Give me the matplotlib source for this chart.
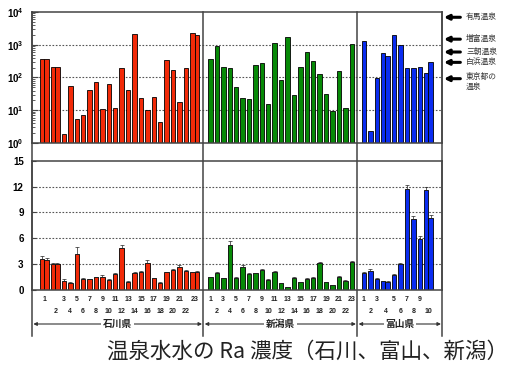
import numpy as np
import matplotlib
matplotlib.use("Agg")
import matplotlib.pyplot as plt
from matplotlib.transforms import blended_transform_factory
from matplotlib.ticker import FixedLocator, FuncFormatter, LogLocator, NullFormatter

plt.rcParams['font.family'] = ['Liberation Sans', 'Noto Sans CJK JP', 'DejaVu Sans']
plt.rcParams['mathtext.fontset'] = 'custom'
plt.rcParams['mathtext.rm'] = 'Liberation Sans'
plt.rcParams['mathtext.bf'] = 'Liberation Sans:bold'

# ---- data -----------------------------------------------------------------
prefectures = ['石川県', '新潟県', '富山県']
colors = ['#f22a08', '#078a07', '#0a2cf0']

# site number of every bar (sites with two samples appear twice)
sites_ishikawa = [1, 1, 2, 2] + list(range(3, 23)) + [23, 23]
sites_niigata = list(range(1, 24))
sites_toyama = [1, 2, 3, 4, 4, 5, 6, 7, 8, 9, 10, 10]

# upper panel (log scale)
rn_ishikawa = [365, 380, 213, 208, 1.9, 55, 5.5, 7, 41, 72, 10.7, 63, 11.5,
               200, 41, 2130, 23, 10, 25, 4.5, 340, 175, 17.5, 200, 2230, 2000]
rn_niigata = [380, 910, 213, 190, 50, 24.4, 22.3, 240, 275, 16, 1130, 83, 1680,
              29.5, 213, 600, 315, 130, 31.6, 9.3, 160, 11.8, 1030]
rn_toyama = [1320, 2.4, 95, 575, 465, 1960, 1000, 192, 192, 210, 141, 305]

# lower panel (Ra) with upper error
ra_ishikawa = [3.58, 3.46, 2.96, 2.96, 1.08, 0.85, 4.15, 1.23, 1.23, 1.46, 1.46,
               1.15, 1.80, 4.92, 0.96, 2.00, 2.10, 3.15, 1.35, 0.85, 2.04, 2.30,
               2.70, 2.20, 2.04, 2.08]
ra_err_ishikawa = [0.35, 0.30, 0.20, 0.20, 0.15, 0.10, 0.85, 0.15, 0.10, 0.10, 0.30,
                   0.10, 0.20, 0.25, 0.10, 0.10, 0.15, 0.35, 0.10, 0.10, 0.10, 0.15,
                   0.25, 0.10, 0.10, 0.10]
ra_niigata = [1.46, 2.00, 1.35, 5.19, 1.42, 2.70, 1.85, 1.92, 2.27, 1.12, 2.08, 0.77,
              0.30, 1.42, 0.88, 1.27, 1.38, 3.15, 0.88, 0.54, 1.54, 1.04, 3.23]
ra_err_niigata = [0.10, 0.10, 0.10, 0.45, 0.10, 0.15, 0.10, 0.10, 0.20, 0.10, 0.10,
                  0.10, 0.05, 0.10, 0.10, 0.10, 0.10, 0.15, 0.10, 0.05, 0.10, 0.10, 0.15]
ra_toyama = [1.94, 2.17, 1.24, 1.00, 0.93, 1.74, 2.98, 11.74, 8.20, 5.97, 11.60, 8.40]
ra_err_toyama = [0.10, 0.25, 0.10, 0.10, 0.10, 0.10, 0.15, 0.45, 0.40, 0.35, 0.40, 0.35]

# reference hot springs marked at the right of the upper panel
ref_names = ['有馬温泉', '増富温泉', '三朝温泉', '白浜温泉', '東京都の\n温泉']
ref_values = [6900, 1480, 600, 290, 92]

bottom_ticks = [0, 3, 6, 9, 12, 15]
caption = '温泉水水の Ra 濃度（石川、富山、新潟）'

# ---- layout ---------------------------------------------------------------
BAR_W = 1.0
GAP = 0.45
LEAD = [1.8, 1.1, 1.0]
TAIL = [1.0, 0.75, 2.15]

groups = [
    (sites_ishikawa, rn_ishikawa, ra_ishikawa, ra_err_ishikawa),
    (sites_niigata, rn_niigata, ra_niigata, ra_err_niigata),
    (sites_toyama, rn_toyama, ra_toyama, ra_err_toyama),
]

fig = plt.figure(figsize=(5.07, 3.71), dpi=100)
ax_t = fig.add_axes([32 / 507, 1 - 143 / 371, 410.3 / 507, 131 / 371])
ax_b = fig.add_axes([32 / 507, 1 - 290 / 371, 410.3 / 507, 129.3 / 371])

edge_col = '#444444'
cursor = 0.0
borders = [0.0]
odd_pos, odd_lab, even_pos, even_lab = [], [], [], []
for gi, (sites, rn, ra, err) in enumerate(groups):
    x = cursor + LEAD[gi]
    xs = []
    prev = None
    for s in sites:
        if prev is not None:
            x += BAR_W if s == prev else BAR_W + GAP
        xs.append(x)
        prev = s
    xs = np.array(xs)
    centers = xs + BAR_W / 2
    ax_t.bar(xs, rn, width=BAR_W, align='edge', color=colors[gi],
             edgecolor='black', linewidth=0.6, bottom=0)
    ax_b.bar(xs, ra, width=BAR_W, align='edge', color=colors[gi],
             edgecolor='black', linewidth=0.6)
    ax_b.errorbar(centers, ra, yerr=[np.zeros(len(ra)), err], fmt='none',
                  ecolor='#222222', elinewidth=0.5, capsize=1.2, capthick=0.5)
    sites_arr = np.array(sites)
    for s in sorted(set(sites)):
        pos = centers[sites_arr == s].mean()
        if s % 2:
            odd_pos.append(pos); odd_lab.append(str(s))
        else:
            even_pos.append(pos); even_lab.append(str(s))
    cursor = xs[-1] + BAR_W + TAIL[gi]
    borders.append(cursor)

for ax in (ax_t, ax_b):
    ax.set_xlim(borders[0], borders[-1])
    for sp in ax.spines.values():
        sp.set_color(edge_col)
        sp.set_linewidth(1.1)

# upper panel
ax_t.set_yscale('log')
ax_t.set_ylim(1, 1e4)
ax_t.yaxis.set_major_locator(FixedLocator([1, 10, 100, 1000, 10000]))
ax_t.yaxis.set_minor_locator(LogLocator(base=10, subs=np.arange(2, 10)))
ax_t.yaxis.set_minor_formatter(NullFormatter())
ax_t.yaxis.set_major_formatter(
    FuncFormatter(lambda v, p: r'$\mathbf{10^{%d}}$' % round(np.log10(v))))
ax_t.tick_params(axis='y', which='major', direction='in', length=4, width=0.8,
                 labelsize=7, pad=6, color=edge_col)
ax_t.tick_params(axis='y', which='minor', direction='in', length=2, width=0.6,
                 color=edge_col)
ax_t.set_xticks([])
for v in (10, 100, 1000):
    ax_t.axhline(v, color='#555555', lw=0.8, ls=(0, (1.5, 1.5)), zorder=0)

# reference arrows
for name, v in zip(ref_names, ref_values):
    ax_t.annotate('', xy=(1.004, v), xytext=(1.044, v),
                  xycoords=('axes fraction', 'data'),
                  arrowprops=dict(arrowstyle='-|>', color='black', lw=2.2,
                                  mutation_scale=7, shrinkA=0, shrinkB=0))
    multi = '\n' in name
    ax_t.annotate(name, xy=(1.058, v), xycoords=('axes fraction', 'data'),
                  xytext=(0, 4 if multi else 0), textcoords='offset points',
                  ha='left', va='top' if multi else 'center', fontsize=5.6,
                  color='#333333', family=['Noto Sans CJK JP'], linespacing=1.3,
                  annotation_clip=False)

# lower panel
ax_b.set_ylim(0, 15)
ax_b.set_yticks(bottom_ticks)
ax_b.set_yticklabels([str(t) for t in bottom_ticks], fontweight='bold')
ax_b.tick_params(axis='y', direction='in', length=3, width=0.8, labelsize=7,
                 pad=6, color=edge_col)
for v in (3, 6, 9, 12):
    ax_b.axhline(v, color='#555555', lw=0.8, ls=(0, (1.5, 1.5)), zorder=0)

ax_b.set_xticks(odd_pos)
ax_b.set_xticklabels(odd_lab)
ax_b.set_xticks(even_pos, minor=True)
ax_b.set_xticklabels(even_lab, minor=True)
ax_b.tick_params(axis='x', which='major', length=0, labelsize=5, pad=4.5,
                 labelcolor='#222222')
ax_b.tick_params(axis='x', which='minor', length=0, labelsize=5, pad=13,
                 labelcolor='#222222')
for lab in ax_b.get_xticklabels(which='both'):
    lab.set_fontweight('bold')

# vertical frame lines running through both panels and the label area
vtrans = blended_transform_factory(ax_b.transData, fig.transFigure)
y_low, y_high = 1 - 336 / 371, 1 - 12 / 371
for xb in borders:
    ax_b.plot([xb, xb], [y_low, y_high], transform=vtrans, color=edge_col,
              lw=1.1, clip_on=False, zorder=5)

# prefecture spans
y_arrow = 1 - 324 / 371
for gi, name in enumerate(prefectures):
    x0, x1 = borders[gi], borders[gi + 1]
    ax_b.annotate('', xy=(x0 + 0.3, y_arrow), xytext=(x1 - 0.3, y_arrow),
                  xycoords=vtrans, textcoords=vtrans, annotation_clip=False,
                  arrowprops=dict(arrowstyle='<|-|>', color='#333333', lw=0.8,
                                  mutation_scale=5, shrinkA=0, shrinkB=0))
    ax_b.text((x0 + x1) / 2, y_arrow, name, transform=vtrans, ha='center',
              va='center', fontsize=7, fontweight='bold', color='#222222',
              family=['Noto Sans CJK JP'],
              bbox=dict(facecolor='white', edgecolor='none', pad=1.2))

fig.text(0.6065, 1 - 352 / 371, caption, ha='center', va='center',
         fontsize=15.5, color='#222222', family=['Noto Sans CJK JP', 'DejaVu Sans'])

fig.savefig('out.png', dpi=100)
